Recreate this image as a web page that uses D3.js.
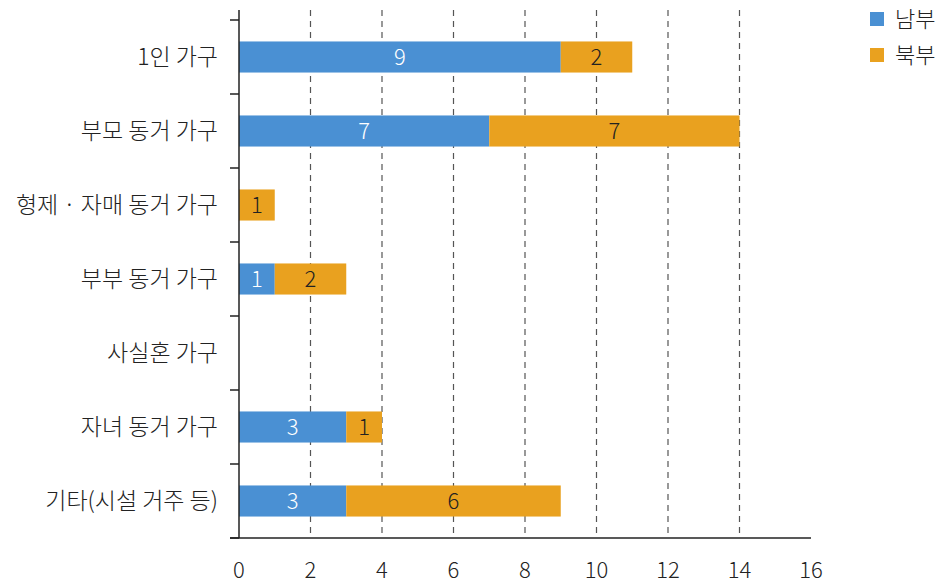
<!DOCTYPE html>
<html><head><meta charset="utf-8">
<script src="https://cdn.jsdelivr.net/npm/d3@7"></script>
<style>
html,body{margin:0;padding:0;background:#fff;}
svg text{font-family:"Noto Sans CJK KR","Noto Sans",sans-serif;}
</style></head>
<body><svg id="c" width="945" height="585"></svg>
<script>
const categories = ["1인 가구","부모 동거 가구","형제 · 자매 동거 가구","부부 동거 가구","사실혼 가구","자녀 동거 가구","기타(시설 거주 등)"];
const seriesNames = ["남부","북부"];
const south = [9,7,0,1,0,3,3];
const north = [2,7,1,2,0,1,6];
const xTicks = [0,2,4,6,8,10,12,14,16];
const colors = ["#4a90d3","#e9a11f"];

const svg = d3.select("#c");
const mLeft = 239, mRight = 811, mTop = 20, mBottom = 538;
const x = d3.scaleLinear().domain([0,16]).range([mLeft,mRight]);
const y = d3.scaleBand().domain(categories).range([mTop,mBottom]).paddingInner(0.58).paddingOuter(0.29);

// gridlines
svg.append("g").selectAll("line").data(xTicks.filter(d=>d>0 && d<16)).join("line")
  .attr("x1",d=>x(d)).attr("x2",d=>x(d)).attr("y1",10).attr("y2",mBottom)
  .attr("stroke","#555").attr("stroke-width",1.2).attr("stroke-dasharray","6,5");

const data = categories.map((c,i)=>({cat:c, s:south[i], n:north[i]}));
const stack = d3.stack().keys(["s","n"])(data);

const g = svg.append("g");
stack.forEach((layer,li)=>{
  g.selectAll(null).data(layer).join("rect")
    .attr("x",d=>x(d[0])).attr("width",d=>x(d[1])-x(d[0]))
    .attr("y",d=>y(d.data.cat)).attr("height",y.bandwidth())
    .attr("fill",colors[li]);
  g.selectAll(null).data(layer.filter(d=>d[1]-d[0]>0)).join("text")
    .attr("x",d=>(x(d[0])+x(d[1]))/2).attr("y",d=>y(d.data.cat)+y.bandwidth()/2)
    .attr("dy","0.36em").attr("text-anchor","middle")
    .attr("font-size",22).attr("font-weight",300)
    .attr("fill",li===0?"#fff":"#222")
    .text(d=>d[1]-d[0]);
});

// y axis
svg.append("line").attr("x1",mLeft).attr("x2",mLeft).attr("y1",10).attr("y2",mBottom).attr("stroke","#222").attr("stroke-width",1.5);
const yTicks = d3.range(categories.length+1).map(i=>mTop + i*(mBottom-mTop)/categories.length);
svg.append("g").selectAll("line").data(yTicks).join("line")
  .attr("x1",230).attr("x2",mLeft).attr("y1",d=>d).attr("y2",d=>d).attr("stroke","#222").attr("stroke-width",1.5);
svg.append("g").selectAll("text").data(categories).join("text")
  .attr("x",218).attr("y",d=>y(d)+y.bandwidth()/2).attr("dy","0.36em")
  .attr("text-anchor","end").attr("font-size",23).attr("font-weight",300).attr("fill","#222").text(d=>d);

// x axis
svg.append("line").attr("x1",230).attr("x2",mRight).attr("y1",mBottom).attr("y2",mBottom).attr("stroke","#222").attr("stroke-width",1.5);
svg.append("g").selectAll("text").data(xTicks).join("text")
  .attr("x",d=>x(d)).attr("y",570).attr("dy","0.36em").attr("text-anchor","middle")
  .attr("font-size",22).attr("font-weight",300).attr("fill","#222").text(d=>d);

// legend
const lg = svg.append("g");
seriesNames.forEach((s,i)=>{
  lg.append("rect").attr("x",870).attr("y",12+i*36).attr("width",14).attr("height",14).attr("fill",colors[i]);
  lg.append("text").attr("x",895).attr("y",19+i*36).attr("dy","0.36em").attr("font-size",22).attr("font-weight",300).attr("fill","#222").text(s);
});
</script></body></html>
